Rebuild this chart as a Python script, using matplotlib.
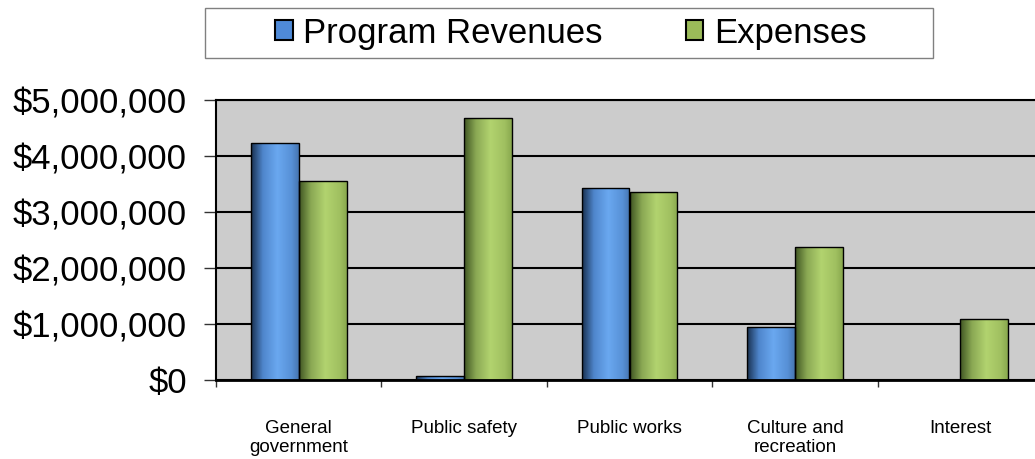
import numpy as np
import matplotlib
matplotlib.use('Agg')
import matplotlib.pyplot as plt
from matplotlib.colors import LinearSegmentedColormap
from matplotlib.patches import Patch, Rectangle
from matplotlib.ticker import FuncFormatter

plt.rcParams['font.family'] = ['Liberation Sans', 'DejaVu Sans']

# dati
categorie = ['General\ngovernment', 'Public safety', 'Public works',
             'Culture and\nrecreation', 'Interest']
ricavi = [4230000, 80000, 3430000, 940000, 0]
spese = [3550000, 4680000, 3350000, 2370000, 1090000]
serie = ['Program Revenues', 'Expenses']

# sfumature delle barre (bordo scuro, centro chiaro)
cm_blu = LinearSegmentedColormap.from_list('blu', [
    (0.0, '#18304f'), (0.25, '#4f86cc'), (0.55, '#6aa8f0'), (0.85, '#5790d6'), (1.0, '#4675b0')])
cm_verde = LinearSegmentedColormap.from_list('verde', [
    (0.0, '#3f5522'), (0.25, '#8aa854'), (0.55, '#b2d36f'), (0.85, '#a0c060'), (1.0, '#89a84e')])

fig = plt.figure(figsize=(10.35, 4.59), dpi=100)
ax = fig.add_axes([216/1035, 1-380/459, (1043-216)/1035, 280/459])
ax.set_facecolor('#cccccc')

x = np.arange(len(categorie))
w = 0.29
barre_r = ax.bar(x - w/2, ricavi, w, zorder=3)
barre_s = ax.bar(x + w/2, spese, w, zorder=3)

grad = np.linspace(0, 1, 256).reshape(1, -1)
for barre, cm in [(barre_r, cm_blu), (barre_s, cm_verde)]:
    for b in barre:
        x0, y0 = b.get_xy()
        bw, bh = b.get_width(), b.get_height()
        b.set_facecolor('none')
        if bh <= 0:
            b.set_edgecolor('none')
            continue
        b.set_edgecolor('black')
        b.set_linewidth(1)
        im = ax.imshow(grad, cmap=cm, extent=[x0, x0 + bw, y0, y0 + bh],
                       aspect='auto', zorder=2, interpolation='bilinear')
        im.set_clip_path(b)

ax.set_xlim(-0.5, len(categorie) - 0.5)
ax.set_ylim(0, 5000000)

# griglia e assi
ax.set_yticks(np.arange(0, 5000001, 1000000))
ax.yaxis.set_major_formatter(FuncFormatter(lambda v, p: f'${v:,.0f}'))
ax.yaxis.grid(True, color='black', linewidth=1.5)
ax.set_axisbelow(True)
ax.tick_params(axis='y', length=9, width=1, color='#333333', pad=12, labelsize=25)

ax.set_xticks(np.arange(-0.5, len(categorie), 1))
ax.set_xticklabels([])
ax.set_xticks(x, minor=True)
ax.set_xticklabels(categorie, minor=True, fontsize=13.5, linespacing=1.15)
ax.tick_params(axis='x', which='major', length=5, width=1, color='#333333')
ax.tick_params(axis='x', which='minor', length=0, pad=29)

for lato in ['left', 'top']:
    ax.spines[lato].set_linewidth(1.5)
ax.spines['bottom'].set_linewidth(2)
ax.spines['right'].set_visible(False)

# legenda in alto
maniglie = [Patch(facecolor='#4f8ad8', edgecolor='black', linewidth=1.5),
            Patch(facecolor='#9bbb59', edgecolor='black', linewidth=1.5)]
fig.legend(maniglie, serie, loc='center', bbox_to_anchor=(571/1035, 1-33/459),
           ncol=2, frameon=False, fontsize=25, handlelength=0.5, handleheight=0.5,
           handletextpad=0.3, columnspacing=2.4)
fig.patches.append(Rectangle((205/1035, 1-58/459), (933-205)/1035, 50/459,
                             transform=fig.transFigure, fill=False,
                             edgecolor='#808080', linewidth=1))

fig.savefig('out.png', dpi=100, facecolor='white')
